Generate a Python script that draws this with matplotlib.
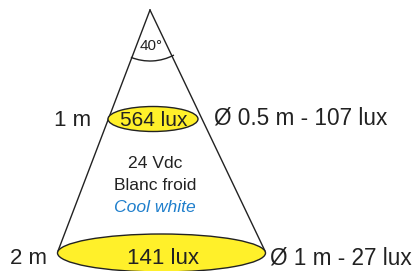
import matplotlib.pyplot as plt
from matplotlib.patches import Ellipse, Arc

plt.rcParams['font.family'] = ['Liberation Sans', 'DejaVu Sans']

# chart content
beam_angle = 40
distances = ["1 m", "2 m"]
center_lux = [564, 141]
diameters = ["0.5", "1"]
edge_lux = [107, 27]
info_lines = ["24 Vdc", "Blanc froid"]
info_en = "Cool white"

fig = plt.figure(figsize=(4.15, 2.71), dpi=100)
ax = fig.add_axes([0, 0, 1, 1])
ax.set_xlim(0, 415)
ax.set_ylim(271, 0)
ax.axis('off')

yellow = '#fff02a'
ink = '#222222'
apex = (150, 10)

# cone sides
ax.plot([apex[0], 58], [apex[1], 251], color=ink, lw=1.0, zorder=1)
ax.plot([apex[0], 265], [apex[1], 251], color=ink, lw=1.0, zorder=1)

# angle arc
ax.add_patch(Arc(apex, 102, 102, theta1=62, theta2=112, color=ink, lw=1.0))
ax.text(151, 46, f"{beam_angle}°", ha='center', va='center', fontsize=11, color=ink)

# spot ellipses: (cx, cy, w, h)
spots = [(153, 119, 90, 25), (161.5, 253, 208, 38)]
ytext = [120, 258]
lux_size = [15, 16]
for i, (cx, cy, w, h) in enumerate(spots):
    ax.add_patch(Ellipse((cx, cy), w, h, facecolor=yellow, edgecolor=ink, lw=1.0, zorder=2))
    ax.text(cx + 1, ytext[i], f"{center_lux[i]} lux", ha='center', va='center',
            fontsize=lux_size[i], color=ink, zorder=3)

ax.text(91, 120, distances[0], ha='right', va='center', fontsize=16, color=ink)
ax.text(47, 258, distances[1], ha='right', va='center', fontsize=16, color=ink)
ax.text(214, 118, f"Ø {diameters[0]} m - {edge_lux[0]} lux", ha='left', va='center', fontsize=16.3, color=ink)
ax.text(270, 258, f"Ø {diameters[1]} m - {edge_lux[1]} lux", ha='left', va='center', fontsize=16.3, color=ink)

ax.text(155, 163, info_lines[0], ha='center', va='center', fontsize=12.6, color=ink)
ax.text(155, 185, info_lines[1], ha='center', va='center', fontsize=12.6, color=ink)
ax.text(155, 207, info_en, ha='center', va='center', fontsize=12.6, color='#1f7fcc', style='italic')

fig.savefig('out.png', dpi=100)
